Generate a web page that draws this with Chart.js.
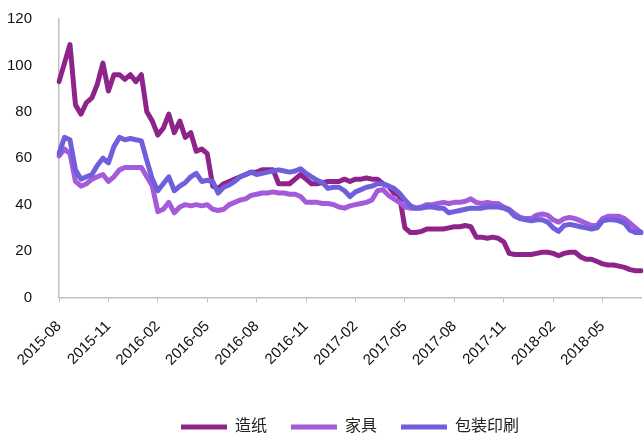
<!DOCTYPE html>
<html>
<head>
<meta charset="utf-8">
<script src="https://cdn.jsdelivr.net/npm/chart.js@4.4.1/dist/chart.umd.min.js"></script>
<style>
  html, body { margin: 0; padding: 0; background: #fff; }
  #wrap { width: 644px; height: 435px; }
</style>
</head>
<body>
<div id="wrap"><canvas id="c"></canvas></div>
<script>
// dates, roughly every 10 days
const dates = [
  '2015-08-01','2015-08-11','2015-08-21','2015-09-01','2015-09-11','2015-09-21',
  '2015-10-01','2015-10-11','2015-10-21','2015-11-01','2015-11-11','2015-11-21',
  '2015-12-01','2015-12-11','2015-12-21','2016-01-01','2016-01-11','2016-01-21',
  '2016-02-01','2016-02-11','2016-02-21','2016-03-01','2016-03-11','2016-03-21',
  '2016-04-01','2016-04-11','2016-04-21','2016-05-01','2016-05-11','2016-05-21',
  '2016-06-01','2016-06-11','2016-06-21','2016-07-01','2016-07-11','2016-07-21',
  '2016-08-01','2016-08-11','2016-08-21','2016-09-01','2016-09-11','2016-09-21',
  '2016-10-01','2016-10-11','2016-10-21','2016-11-01','2016-11-11','2016-11-21',
  '2016-12-01','2016-12-11','2016-12-21','2017-01-01','2017-01-11','2017-01-21',
  '2017-02-01','2017-02-11','2017-02-21','2017-03-01','2017-03-11','2017-03-21',
  '2017-04-01','2017-04-11','2017-04-21','2017-05-01','2017-05-11','2017-05-21',
  '2017-06-01','2017-06-11','2017-06-21','2017-07-01','2017-07-11','2017-07-21',
  '2017-08-01','2017-08-11','2017-08-21','2017-09-01','2017-09-11','2017-09-21',
  '2017-10-01','2017-10-11','2017-10-21','2017-11-01','2017-11-11','2017-11-21',
  '2017-12-01','2017-12-11','2017-12-21','2018-01-01','2018-01-11','2018-01-21',
  '2018-02-01','2018-02-11','2018-02-21','2018-03-01','2018-03-11','2018-03-21',
  '2018-04-01','2018-04-11','2018-04-21','2018-05-01','2018-05-11','2018-05-21',
  '2018-06-01','2018-06-11','2018-06-21','2018-07-01','2018-07-11'
];

const paper = [
  93, 101, 109, 83, 79, 84, 86, 92, 101, 89, 96, 96,
  94, 96, 93, 96, 80, 76, 70, 73, 79, 71, 76, 69,
  71, 63, 64, 62, 48, 47, 49, 50, 51, 52, 53, 54,
  54, 55, 55, 55, 49, 49, 49, 51, 53, 51, 49, 49,
  49.5, 50, 50, 50, 51, 50, 51, 51, 51.5, 51, 51, 49,
  48, 45, 44, 30, 28, 28, 28.5, 29.5, 29.5, 29.5, 29.5, 30,
  30.5, 30.5, 31, 30.5, 26, 26, 25.5, 26, 25.5, 24, 19, 18.5,
  18.5, 18.5, 18.5, 19, 19.5, 19.5, 19, 18, 19, 19.5, 19.5, 17.5,
  16.5, 16.5, 15.5, 14.5, 14, 14, 13.5, 13, 12, 11.5, 11.5
];

const furniture = [
  61, 64, 62, 50, 48, 49, 51, 52, 53, 50, 52, 55,
  56, 56, 56, 56, 52, 48, 37, 38, 41, 36.5, 39, 40,
  39.5, 40, 39.5, 40, 38, 37.5, 38, 40, 41, 42, 42.5, 44,
  44.5, 45, 45, 45.5, 45, 45, 44.5, 44.5, 43.5, 41, 41, 41,
  40.5, 40.5, 40, 39, 38.5, 39.5, 40, 40.5, 41, 42, 46, 46.5,
  44, 42.5, 41, 39, 38.5, 38.5, 39, 40, 40, 40.5, 41, 40.5,
  41, 41, 41.5, 42.5, 41, 40.5, 41, 40.5, 40.5, 39, 38, 36,
  34.5, 34, 34, 35.5, 36, 35.5, 33.5, 32.5, 34, 34.5, 34, 33,
  32, 31, 31, 34, 35, 35, 35, 34, 32, 30, 28
];

const packaging = [
  62, 69, 68, 55, 51, 52, 53, 57, 60, 58, 65, 69,
  68, 68.5, 68, 67.5, 59, 51, 46, 49, 52, 46, 48, 49.5,
  52, 53.5, 50, 50.5, 50, 45, 47.5, 48.5, 50, 52, 53, 54,
  53, 53.5, 54, 54.5, 55, 54.5, 54, 54.5, 55.5, 53.5, 52, 50.5,
  49.5, 47, 47.5, 47.5, 46, 43.5, 45.5, 46.5, 47.5, 48, 49, 49,
  48, 47, 45, 42, 39.5, 38.5, 38.5, 39, 39, 38.5, 38.5, 36.5,
  37, 37.5, 38, 38.5, 38.5, 38.5, 39, 39, 39, 38.5, 37.5, 35,
  34, 33.5, 33, 33.5, 33.5, 32.5, 30, 28.5, 31, 31.5, 31, 30.5,
  30, 29.5, 30, 33, 33.5, 33.5, 33, 32, 29, 28, 28
];

const seriesNames = ['造纸', '家具', '包装印刷'];
const seriesColors = ['#8E2489', '#A35BDB', '#705FDA'];
const yTicks = [0, 20, 40, 60, 80, 100, 120];
const quarterMonths = ['02', '05', '08', '11'];

const fontFamily = "'Liberation Sans', 'Noto Sans CJK SC', sans-serif";

function makeSet(i, values) {
  return {
    label: seriesNames[i],
    data: values,
    borderColor: seriesColors[i],
    backgroundColor: seriesColors[i],
    borderWidth: 5,
    borderCapStyle: 'round',
    borderJoinStyle: 'round',
    pointRadius: 0,
    tension: 0,
    order: 3 - i,
  };
}

new Chart(document.getElementById('c'), {
  type: 'line',
  data: {
    labels: dates,
    datasets: [makeSet(0, paper), makeSet(1, furniture), makeSet(2, packaging)],
  },
  options: {
    responsive: true,
    maintainAspectRatio: false,
    animation: false,
    layout: { padding: { top: 19, right: 3, left: 0, bottom: -10 } },
    plugins: {
      tooltip: { enabled: false },
      legend: {
        position: 'bottom',
        fullSize: false,
        labels: {
          usePointStyle: true,
          pointStyle: 'line',
          pointStyleWidth: 46,
          padding: 24,
          color: '#222',
          font: { family: fontFamily, size: 16 },
          sort: (a, b) => a.datasetIndex - b.datasetIndex,
        },
      },
    },
    scales: {
      x: {
        type: 'category',
        offset: false,
        afterBuildTicks: (axis) => {
          const labels = axis.getLabels();
          axis.ticks = axis.ticks.filter((t) => {
            const d = labels[t.value];
            return d.endsWith('-01') && quarterMonths.includes(d.slice(5, 7));
          });
        },
        afterFit: (s) => { s.height = 97.5; },
        grid: { drawOnChartArea: false, drawTicks: true, tickLength: 5, color: '#BFBFBF' },
        border: { color: '#BFBFBF', width: 1.5 },
        ticks: {
          autoSkip: false,
          maxRotation: 45,
          minRotation: 45,
          padding: 15,
          color: '#111',
          font: { family: fontFamily, size: 15 },
          callback: function (v) { return this.getLabelForValue(v).slice(0, 7); },
        },
      },
      y: {
        min: 0,
        max: 120,
        afterBuildTicks: (axis) => { axis.ticks = yTicks.map((v) => ({ value: v })); },
        afterFit: (s) => {
          s.width = 59;
          s.paddingTop = 9;
          s.paddingBottom = 9;
        },
        grid: { display: false },
        border: { color: '#BFBFBF', width: 1.5 },
        ticks: {
          padding: 19,
          color: '#111',
          font: { family: fontFamily, size: 15 },
        },
      },
    },
  },
});
</script>
</body>
</html>
